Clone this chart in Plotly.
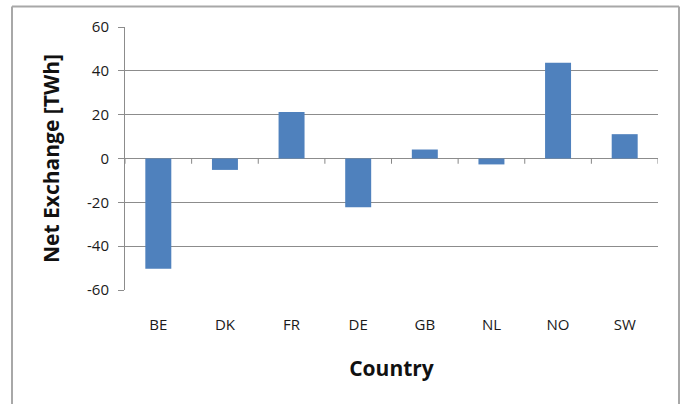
import plotly.graph_objects as go

countries = ["BE", "DK", "FR", "DE", "GB", "NL", "NO", "SW"]
net_exchange = [-50.3, -5.2, 21.2, -22.2, 4.1, -2.7, 43.7, 11.1]
y_ticks = [-60, -40, -20, 0, 20, 40, 60]
y_tick_text = ["-60", "-40", "-20", "0", "20", "40", "60"]

W, H = 681, 405
L, R, T, B = 125, 23, 27, 115
pw, ph = W - L - R, H - T - B

def px_x(x):
    return (x - L) / pw

def px_y(y):
    return (H - B - y) / ph

fig = go.Figure()
fig.add_trace(go.Bar(
    x=list(range(len(countries))), y=net_exchange,
    marker=dict(color="#4F81BD", line=dict(width=0)),
    width=0.39,
))

shapes = []
# category tick marks on the zero line (between categories)
for k in range(len(countries) + 1):
    shapes.append(dict(
        type="line", xref="x", yref="y",
        x0=k - 0.5, x1=k - 0.5, y0=0, y1=-2.4,
        line=dict(color="#878787", width=1),
    ))

# outer chart frame (top drawn in segments, sides as lines)
frame = dict(color="#A8A8A8", width=2)
top_y = px_y(6.5)
for xa, xb in [(12, 125), (125, 400), (400, 658), (658, 679)]:
    shapes.append(dict(type="line", xref="paper", yref="paper",
                       x0=px_x(xa), x1=px_x(xb), y0=top_y, y1=top_y, line=frame))
for xv in (12, 679):
    shapes.append(dict(type="line", xref="paper", yref="paper",
                       x0=px_x(xv), x1=px_x(xv), y0=top_y, y1=px_y(404), line=frame))

fig.update_layout(
    width=W, height=H,
    margin=dict(l=L, r=R, t=T, b=B, pad=0, autoexpand=False),
    paper_bgcolor="white", plot_bgcolor="white",
    showlegend=False,
    font=dict(family="Open Sans, Liberation Sans, sans-serif", color="#222222"),
    xaxis=dict(
        range=[-0.5, len(countries) - 0.5],
        tickmode="array",
        tickvals=list(range(len(countries))),
        ticktext=countries,
        showgrid=False, zeroline=False, showline=False,
        ticks="", tickfont=dict(size=15, color="#1a1a1a"),
        ticklabelstandoff=24,
        automargin=False,
        title=dict(text="<b>Country</b>", font=dict(size=21, color="#111111"), standoff=28),
    ),
    yaxis=dict(
        range=[-60, 60],
        tickmode="array", tickvals=y_ticks, ticktext=y_tick_text,
        showgrid=True, gridcolor="#8C8C8C", gridwidth=1,
        zeroline=True, zerolinecolor="#8C8C8C", zerolinewidth=1,
        showline=True, linecolor="#8C8C8C", linewidth=1,
        ticks="outside", ticklen=6, tickcolor="#8C8C8C",
        tickfont=dict(size=15, color="#1a1a1a"),
        ticklabelstandoff=6,
        automargin=False,
        title=dict(text="<b>Net Exchange [TWh]</b>", font=dict(size=21, color="#111111"), standoff=21),
    ),
    shapes=shapes,
)

fig.write_html(
    "out.html",
    config={"displayModeBar": False},
    post_script="document.body.style.margin='0';document.body.style.padding='0';",
)
